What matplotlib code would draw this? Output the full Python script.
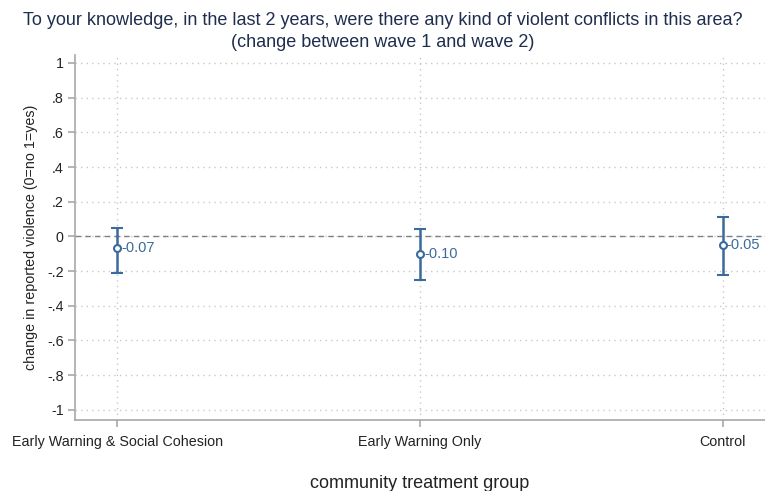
import numpy as np
import matplotlib
matplotlib.use("Agg")
from matplotlib import pyplot as plt

plt.rcParams['font.family'] = ['Liberation Sans', 'DejaVu Sans']

# change in reported violence by treatment group, with 95% CI
groups = ["Early Warning & Social Cohesion", "Early Warning Only", "Control"]
means = [-0.07, -0.10, -0.05]
ci_low = [-0.21, -0.25, -0.22]
ci_high = [0.05, 0.04, 0.11]

yticks = [1, 0.8, 0.6, 0.4, 0.2, 0, -0.2, -0.4, -0.6, -0.8, -1]
ytick_labels = ["1", ".8", ".6", ".4", ".2", "0", "-.2", "-.4", "-.6", "-.8", "-1"]

blue = "#3b6b9c"
axcol = "#a8a8a8"
txt = "#222222"

fig = plt.figure(figsize=(7.65, 4.91), dpi=100)
ax = fig.add_axes([0.098, 0.145, 0.902, 0.743])

x = np.arange(1, len(groups) + 1)
m = np.array(means)
err = [m - np.array(ci_low), np.array(ci_high) - m]

ax.axhline(0, color="#808080", lw=1, ls=(0, (4, 3)), zorder=1)
ax.errorbar(x, m, yerr=err, fmt="o", color=blue, mfc="white", mec=blue,
            ms=5, mew=1.5, elinewidth=1.8, capsize=4, capthick=1.5, zorder=3)

for xi, v in zip(x, means):
    ax.annotate(f"{v:.2f}", (xi, v), xytext=(3, 0), textcoords="offset points",
                va="center", ha="left", color=blue, fontsize=10.5)

ax.set_xlim(0.86, 3.14)
ax.set_ylim(-1.058, 1.046)
ax.set_xticks(x)
ax.set_xticklabels(groups, fontsize=10.3, color=txt)
ax.set_yticks(yticks)
ax.set_yticklabels(ytick_labels, fontsize=10.3, color=txt)

ax.grid(True, color="#c8c8c8", ls=(0, (1, 3)), lw=1)
ax.set_axisbelow(True)
for s in ["top", "right"]:
    ax.spines[s].set_visible(False)
for s in ["left", "bottom"]:
    ax.spines[s].set_color(axcol)
    ax.spines[s].set_linewidth(1.2)
ax.tick_params(axis="both", color=axcol, length=5, width=1.2, pad=3)
ax.tick_params(axis="x", pad=6)

ax.set_ylabel("change in reported violence (0=no 1=yes)", fontsize=10.3, color=txt, labelpad=7)
ax.set_xlabel("community treatment group", fontsize=13, color=txt, labelpad=19)

fig.suptitle("To your knowledge, in the last 2 years, were there any kind of violent conflicts in this area?\n"
             "(change between wave 1 and wave 2)",
             fontsize=13, color="#1f2d4f", y=0.975, linespacing=1.4)

fig.savefig("out.png", dpi=100)
